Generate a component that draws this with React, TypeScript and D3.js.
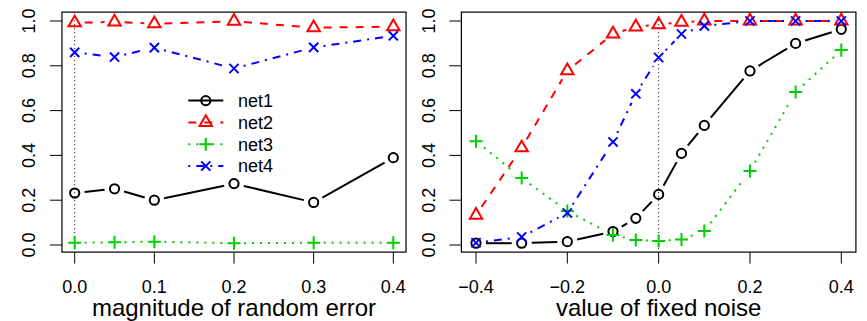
import React from 'react';
import * as d3 from 'd3';

// left panel: magnitude of random error
const errX = [0, 0.05, 0.1, 0.2, 0.3, 0.4];
const errNet1 = [0.232, 0.251, 0.2, 0.274, 0.19, 0.39];
const errNet2 = [0.992, 0.996, 0.988, 0.999, 0.97, 0.975];
const errNet3 = [0.01, 0.012, 0.015, 0.008, 0.01, 0.01];
const errNet4 = [0.86, 0.839, 0.881, 0.788, 0.882, 0.934];
const errTicks = [0, 0.1, 0.2, 0.3, 0.4];

// right panel: value of fixed noise
const noiseX = [-0.4, -0.3, -0.2, -0.1, -0.05, 0, 0.05, 0.1, 0.2, 0.3, 0.4];
const noiseNet1 = [0.008, 0.008, 0.015, 0.06, 0.119, 0.226, 0.409, 0.534, 0.777, 0.9, 0.963];
const noiseNet2 = [0.133, 0.434, 0.778, 0.942, 0.974, 0.984, 0.995, 1.0, 1.0, 1.0, 1.0];
const noiseNet3 = [0.463, 0.299, 0.152, 0.045, 0.022, 0.018, 0.025, 0.062, 0.33, 0.683, 0.87];
const noiseNet4 = [0.01, 0.036, 0.143, 0.46, 0.675, 0.837, 0.942, 0.978, 1.0, 1.0, 1.0];
const noiseTicks = [-0.4, -0.2, 0, 0.2, 0.4];

const yTicks = [0, 0.2, 0.4, 0.6, 0.8, 1.0];
const netNames = ['net1', 'net2', 'net3', 'net4'];
const netColors = ['#000000', '#FF0000', '#00CD00', '#0000FF'];
const netDash = [undefined, '8,8', '2,6', '2,6,8,6'];
const netShape = ['circle', 'triangle', 'plus', 'cross'];

const FONT = '"Liberation Sans", Arial, Helvetica, sans-serif';
const fmt = d3.format('.1f');
const R = 4.6; // symbol radius
const GAP = 10; // type="b" gap around points

const yScale = d3.scaleLinear().domain([0, 1]).range([245, 21]);
const yLo = 0.008 - 0.04 * 0.992;
const yHi = 1.0 + 0.04 * 0.992;

function Marker({ shape, x, y, color }: { shape: string; x: number; y: number; color: string }) {
  const s = { stroke: color, strokeWidth: 2, fill: 'none' };
  if (shape === 'circle') return <circle cx={x} cy={y} r={R} {...s} />;
  if (shape === 'triangle') {
    const r = 1.555 * R, xc = 1.347 * R, yc = 0.778 * R;
    return <path d={`M${x},${y - r}L${x + xc},${y + yc}L${x - xc},${y + yc}Z`} {...s} />;
  }
  if (shape === 'plus') {
    const c = Math.SQRT2 * R;
    return <path d={`M${x - c},${y}H${x + c}M${x},${y - c}V${y + c}`} {...s} />;
  }
  return <path d={`M${x - R},${y - R}L${x + R},${y + R}M${x - R},${y + R}L${x + R},${y - R}`} {...s} />;
}

function Panel({ xs, series, xScale, ticks, xDomain, title, yLabelX }: any) {
  const pad = 0.04 * (xDomain[1] - xDomain[0]);
  const bx0 = xScale(xDomain[0] - pad), bx1 = xScale(xDomain[1] + pad);
  const by0 = yScale(yHi), by1 = yScale(yLo);
  const cx = (bx0 + bx1) / 2;
  return (
    <g>
      <line x1={xScale(0)} x2={xScale(0)} y1={by0} y2={by1} stroke="#000" strokeWidth={1} strokeDasharray="1,3" />
      {series.map((ys: number[], k: number) => {
        const pts = xs.map((x: number, i: number) => [xScale(x), yScale(ys[i])]);
        const segs = [];
        for (let i = 1; i < pts.length; i++) {
          const [xa, ya] = pts[i - 1], [xb, yb] = pts[i];
          const d = Math.hypot(xb - xa, yb - ya);
          if (d <= 2 * GAP) continue;
          const f = GAP / d;
          segs.push(
            <line key={i} x1={xa + (xb - xa) * f} y1={ya + (yb - ya) * f} x2={xb - (xb - xa) * f} y2={yb - (yb - ya) * f}
              stroke={netColors[k]} strokeWidth={2} strokeDasharray={netDash[k]} />
          );
        }
        return (
          <g key={k}>
            {segs}
            {pts.map((p: number[], i: number) => <Marker key={'m' + i} shape={netShape[k]} x={p[0]} y={p[1]} color={netColors[k]} />)}
          </g>
        );
      })}
      <rect x={bx0} y={by0} width={bx1 - bx0} height={by1 - by0} fill="none" stroke="#000" strokeWidth={1.2} />
      {yTicks.map(t => (
        <g key={'y' + t}>
          <line x1={bx0 - 12} x2={bx0} y1={yScale(t)} y2={yScale(t)} stroke="#000" />
          <text transform={`translate(${yLabelX},${yScale(t)}) rotate(-90)`} textAnchor="middle" fontSize={18} fontFamily={FONT}>{fmt(t)}</text>
        </g>
      ))}
      {ticks.map((t: number) => (
        <g key={'x' + t}>
          <line x1={xScale(t)} x2={xScale(t)} y1={by1} y2={by1 + 11.5} stroke="#000" />
          <text x={xScale(t)} y={292.5} textAnchor="middle" fontSize={18} fontFamily={FONT}>{fmt(t)}</text>
        </g>
      ))}
      <text x={cx} y={316} textAnchor="middle" fontSize={24} fontFamily={FONT}>{title}</text>
    </g>
  );
}

export default function App() {
  const xLeft = d3.scaleLinear().domain([0, 0.4]).range([74.7, 393.3]);
  const xRight = d3.scaleLinear().domain([-0.4, 0.4]).range([476, 841.3]);
  const legendY = d3.scaleLinear().domain([0, 3]).range([100.6, 166]);
  return (
    <svg width={867} height={321} style={{ position: 'absolute', left: 0, top: 0, background: '#fff' }}>
      <Panel xs={errX} series={[errNet1, errNet2, errNet3, errNet4]} xScale={xLeft} ticks={errTicks}
        xDomain={[0, 0.4]} title="magnitude of random error" yLabelX={35} />
      <Panel xs={noiseX} series={[noiseNet1, noiseNet2, noiseNet3, noiseNet4]} xScale={xRight} ticks={noiseTicks}
        xDomain={[-0.4, 0.4]} title="value of fixed noise" yLabelX={435} />
      {netNames.map((n, k) => {
        const y = legendY(k);
        return (
          <g key={n}>
            <line x1={188.3} x2={223.3} y1={y} y2={y} stroke={netColors[k]} strokeWidth={2} strokeDasharray={netDash[k]} />
            <Marker shape={netShape[k]} x={205.8} y={y} color={netColors[k]} />
            <text x={238} y={y + 6.4} fontSize={18} fontFamily={FONT}>{n}</text>
          </g>
        );
      })}
    </svg>
  );
}
